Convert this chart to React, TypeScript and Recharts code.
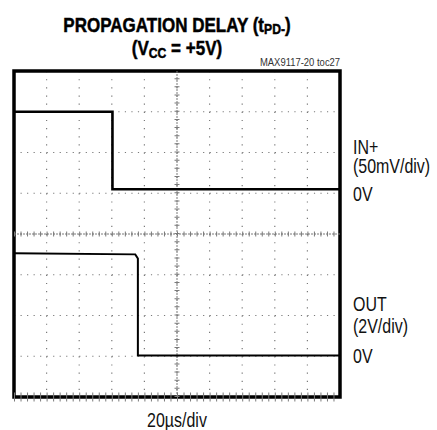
import React from 'react';
import {
  LineChart,
  Line,
  XAxis,
  YAxis,
  CartesianGrid,
  ReferenceLine,
  ReferenceArea
} from 'recharts';

// scope screen in divisions: 10 across, 8 down
const xTicks = [0, 1, 2, 3, 4, 5, 6, 7, 8, 9, 10];
const yTicks = [0, 1, 2, 3, 4, 5, 6, 7, 8];

// IN+ trace (divisions)
const inTime = [0, 3.02, 3.02, 10];
const inLevel = [7, 7, 5.1, 5.1];

// OUT trace (divisions)
const outTime = [0, 3.72, 3.8, 3.8, 10];
const outLevel = [3.53, 3.5, 3.4, 1.02, 1.02];

const inData = inTime.map((t, i) => ({ t, v: inLevel[i] }));
const outData = outTime.map((t, i) => ({ t, v: outLevel[i] }));

const FONT = '"Liberation Sans", Arial, sans-serif';
const GRID = '#7a7a7a';

// narrow look: Liberation Sans squeezed horizontally
const label = (top: number, text: React.ReactNode, lh = 16) => (
  <div
    style={{
      position: 'absolute',
      left: 353,
      top,
      fontSize: 21,
      lineHeight: `${lh}px`,
      color: '#111',
      whiteSpace: 'nowrap',
      transform: 'scaleX(0.76)',
      transformOrigin: 'left center'
    }}
  >
    {text}
  </div>
);

const titleStyle: React.CSSProperties = {
  position: 'absolute',
  left: 0,
  width: 354,
  textAlign: 'center',
  fontSize: 21,
  lineHeight: '21px',
  fontWeight: 700,
  whiteSpace: 'nowrap',
  WebkitTextStroke: '0.5px #000',
  transform: 'scaleX(0.81)',
  transformOrigin: '177px center'
};

const sub: React.CSSProperties = { fontSize: 15, position: 'relative', top: 2.5 };

export default function App() {
  return (
    <div style={{ position: 'absolute', left: 0, top: 0, width: 437, height: 430, background: '#fff', fontFamily: FONT, overflow: 'hidden' }}>
      <div style={{ ...titleStyle, top: 13.7 }}>
        PROPAGATION DELAY (t<span style={sub}>PD-</span>)
      </div>
      <div style={{ ...titleStyle, top: 37.2 }}>
        (V<span style={sub}>CC</span> = +5V)
      </div>
      <div
        style={{
          position: 'absolute',
          right: 97,
          top: 57,
          fontSize: 10.5,
          lineHeight: '10.5px',
          color: '#333',
          whiteSpace: 'nowrap',
          transform: 'scaleX(0.9)',
          transformOrigin: 'right center'
        }}
      >
        MAX9117-20 toc27
      </div>

      <LineChart
        width={437}
        height={430}
        margin={{ top: 71, right: 97, bottom: 33, left: 14 }}
        style={{ position: 'absolute', left: 0, top: 0 }}
      >
        <XAxis type="number" dataKey="t" domain={[0, 10]} ticks={xTicks} hide allowDataOverflow />
        <YAxis type="number" domain={[0, 8]} ticks={yTicks} hide allowDataOverflow />
        <CartesianGrid vertical={false} stroke={GRID} strokeWidth={1.2} strokeDasharray="1.2 5.32" />
        <CartesianGrid horizontal={false} stroke={GRID} strokeWidth={1.2} strokeDasharray="1.2 6.95" />
        {/* centre graticule with minor ticks */}
        <ReferenceLine y={4} stroke={GRID} strokeWidth={1} strokeDasharray="2 1" />
        <ReferenceLine y={4} stroke={GRID} strokeWidth={5} strokeDasharray="1 5.52" />
        <ReferenceLine x={5} stroke={GRID} strokeWidth={1} strokeDasharray="2 1" />
        <ReferenceLine x={5} stroke={GRID} strokeWidth={5} strokeDasharray="1 7.15" />
        {/* bottom edge minor ticks */}
        <ReferenceLine y={0} stroke={GRID} strokeWidth={9} strokeDasharray="1 5.52" />
        <Line data={inData} dataKey="v" type="linear" stroke="#000" strokeWidth={2.6} dot={false} isAnimationActive={false} />
        <Line data={outData} dataKey="v" type="linear" stroke="#000" strokeWidth={2} dot={false} isAnimationActive={false} />
        <ReferenceArea x1={0} x2={10} y1={0} y2={8} fill="none" stroke="#000" strokeWidth={3.5} />
      </LineChart>

      {label(136.7, <>IN+<br />(50mV/div)</>, 19)}
      {label(186, '0V')}
      {label(293.4, <>OUT<br />(2V/div)</>, 22)}
      {label(347.9, '0V')}
      <div
        style={{
          position: 'absolute',
          left: 0,
          top: 408.7,
          width: 354,
          textAlign: 'center',
          fontSize: 21,
          lineHeight: '21px',
          color: '#111',
          whiteSpace: 'nowrap',
          transform: 'scaleX(0.76)',
          transformOrigin: '177px center'
        }}
      >
        20µs/div
      </div>
    </div>
  );
}
